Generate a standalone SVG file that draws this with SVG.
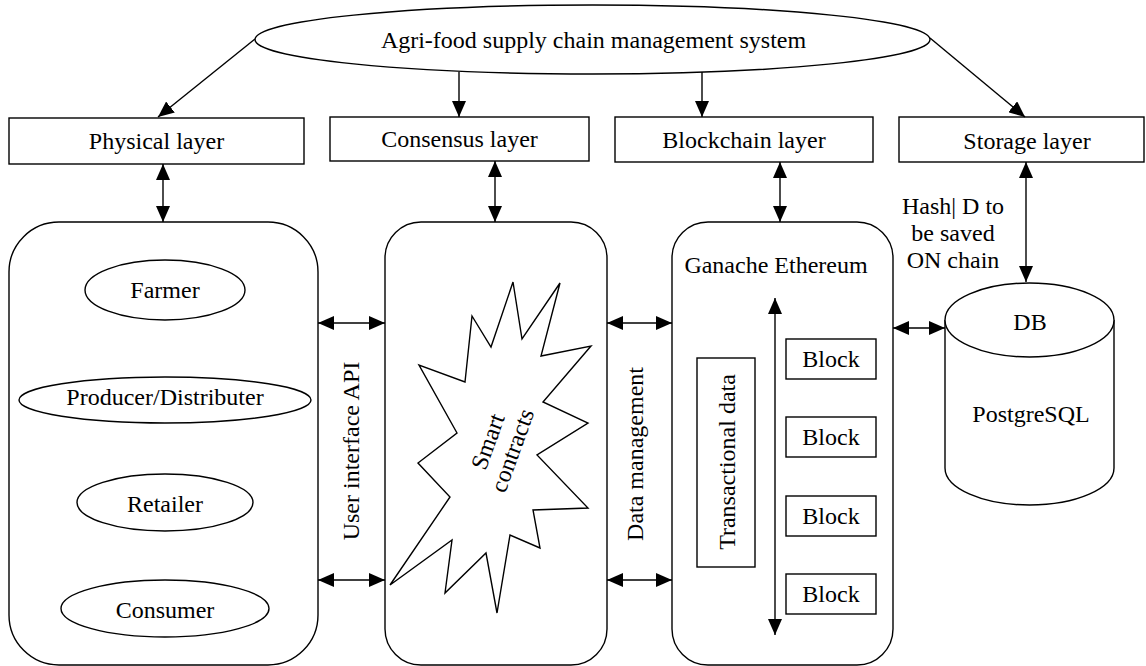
<svg xmlns="http://www.w3.org/2000/svg" width="1146" height="666" viewBox="0 0 1146 666">
  <defs>
    <style>
      .shape { fill: #ffffff; stroke: #000000; stroke-width: 1.4; }
      .link { fill: none; stroke: #000000; stroke-width: 1.4; }
      .lbl { font-family: "Liberation Serif", "Times New Roman", serif; font-size: 24px; fill: #000000; text-anchor: middle; }
    </style>
    <marker id="head" viewBox="0 0 16 14" refX="16" refY="7" markerWidth="16" markerHeight="14" markerUnits="userSpaceOnUse" orient="auto-start-reverse">
      <path d="M0,0 L16,7 L0,14 z" fill="#000000"/>
    </marker>
  </defs>
  <rect width="1146" height="666" fill="#ffffff"/>

  <!-- system root -->
  <g id="system">
    <ellipse class="shape" cx="592.5" cy="39.5" rx="337.5" ry="34.5"/>
    <text class="lbl" x="593.5" y="48">Agri-food supply chain management system</text>
  </g>

  <!-- layers -->
  <g id="physical-layer">
    <rect class="shape" x="9" y="118" width="295" height="46"/>
    <text class="lbl" x="156.5" y="149">Physical layer</text>
  </g>
  <g id="consensus-layer">
    <rect class="shape" x="330" y="117" width="259" height="44"/>
    <text class="lbl" x="459.5" y="147">Consensus layer</text>
  </g>
  <g id="blockchain-layer">
    <rect class="shape" x="615" y="117" width="258" height="45"/>
    <text class="lbl" x="744" y="148">Blockchain layer</text>
  </g>
  <g id="storage-layer">
    <rect class="shape" x="899" y="117" width="245" height="45"/>
    <text class="lbl" x="1027" y="149">Storage layer</text>
  </g>

  <!-- actors -->
  <g id="actors">
    <rect class="shape" x="9" y="222" width="309" height="443" rx="50" ry="50"/>
    <g id="farmer">
      <ellipse class="shape" cx="165" cy="290" rx="80" ry="30"/>
      <text class="lbl" x="165" y="298">Farmer</text>
    </g>
    <g id="producer">
      <ellipse class="shape" cx="165" cy="400" rx="146" ry="23"/>
      <text class="lbl" x="165" y="405">Producer/Distributer</text>
    </g>
    <g id="retailer">
      <ellipse class="shape" cx="165" cy="502.5" rx="88" ry="28.5"/>
      <text class="lbl" x="165" y="512">Retailer</text>
    </g>
    <g id="consumer">
      <ellipse class="shape" cx="165" cy="608.5" rx="104" ry="28.5"/>
      <text class="lbl" x="165" y="618">Consumer</text>
    </g>
  </g>

  <!-- smart contracts -->
  <g id="contracts">
    <rect class="shape" x="385" y="222" width="222" height="443" rx="36" ry="36"/>
    <polygon class="shape" points="513,282 522,339 560,283 541,356 591,346 543,402 588,423 537,455 588,508 533,510 540,548 510,535 497,613 486,553 445,593 452,540 390,585 450,497 418,463 457,433 419,365 465,382 472,316 491,347"/>
    <g transform="translate(500,446) rotate(-70)">
      <text class="lbl" x="0" y="-5">Smart</text>
      <text class="lbl" x="0" y="21">contracts</text>
    </g>
  </g>

  <!-- ganache chain -->
  <g id="ganache">
    <rect class="shape" x="672" y="222" width="221" height="443" rx="36" ry="36"/>
    <text class="lbl" x="776" y="273">Ganache Ethereum</text>
    <rect class="shape" x="697" y="358" width="58" height="209"/>
    <text class="lbl" transform="translate(735,462) rotate(-90)" x="0" y="0">Transactional data</text>
    <g id="blocks">
      <rect class="shape" x="786" y="339" width="90" height="40"/>
      <text class="lbl" x="831" y="367">Block</text>
      <rect class="shape" x="786" y="417" width="90" height="40"/>
      <text class="lbl" x="831" y="445">Block</text>
      <rect class="shape" x="786" y="496" width="90" height="40"/>
      <text class="lbl" x="831" y="524">Block</text>
      <rect class="shape" x="786" y="574" width="90" height="40"/>
      <text class="lbl" x="831" y="602">Block</text>
    </g>
    <line class="link" x1="775" y1="298" x2="775" y2="635" marker-start="url(#head)" marker-end="url(#head)"/>
  </g>

  <!-- database -->
  <g id="database">
    <path class="shape" d="M945,320 L945,468 A84.5,37 0 0,0 1114,468 L1114,320"/>
    <ellipse class="shape" cx="1029.5" cy="320" rx="84.5" ry="37"/>
    <text class="lbl" x="1030" y="330">DB</text>
    <text class="lbl" x="1031" y="422">PostgreSQL</text>
  </g>

  <!-- side labels -->
  <g id="labels">
    <text class="lbl" transform="translate(359,451) rotate(-90)" x="0" y="0">User interface API</text>
    <text class="lbl" transform="translate(643,454) rotate(-90)" x="0" y="0">Data management</text>
    <text class="lbl" x="953" y="214">Hash| D to</text>
    <text class="lbl" x="953" y="241">be saved</text>
    <text class="lbl" x="953" y="268">ON chain</text>
  </g>

  <!-- connectors -->
  <g id="connectors">
    <line class="link" x1="255" y1="39" x2="158" y2="117" marker-end="url(#head)"/>
    <line class="link" x1="459" y1="72" x2="459" y2="117" marker-end="url(#head)"/>
    <line class="link" x1="702" y1="72" x2="702" y2="117" marker-end="url(#head)"/>
    <line class="link" x1="930" y1="38" x2="1025" y2="117" marker-end="url(#head)"/>

    <line class="link" x1="163" y1="164" x2="163" y2="222" marker-start="url(#head)" marker-end="url(#head)"/>
    <line class="link" x1="495" y1="161" x2="495" y2="222" marker-start="url(#head)" marker-end="url(#head)"/>
    <line class="link" x1="780" y1="162" x2="780" y2="222" marker-start="url(#head)" marker-end="url(#head)"/>
    <line class="link" x1="1026" y1="162" x2="1026" y2="282" marker-start="url(#head)" marker-end="url(#head)"/>

    <line class="link" x1="318" y1="323" x2="385" y2="323" marker-start="url(#head)" marker-end="url(#head)"/>
    <line class="link" x1="318" y1="580" x2="385" y2="580" marker-start="url(#head)" marker-end="url(#head)"/>
    <line class="link" x1="607" y1="323" x2="672" y2="323" marker-start="url(#head)" marker-end="url(#head)"/>
    <line class="link" x1="607" y1="580" x2="672" y2="580" marker-start="url(#head)" marker-end="url(#head)"/>
    <line class="link" x1="893" y1="328" x2="945" y2="328" marker-start="url(#head)" marker-end="url(#head)"/>
  </g>
</svg>
